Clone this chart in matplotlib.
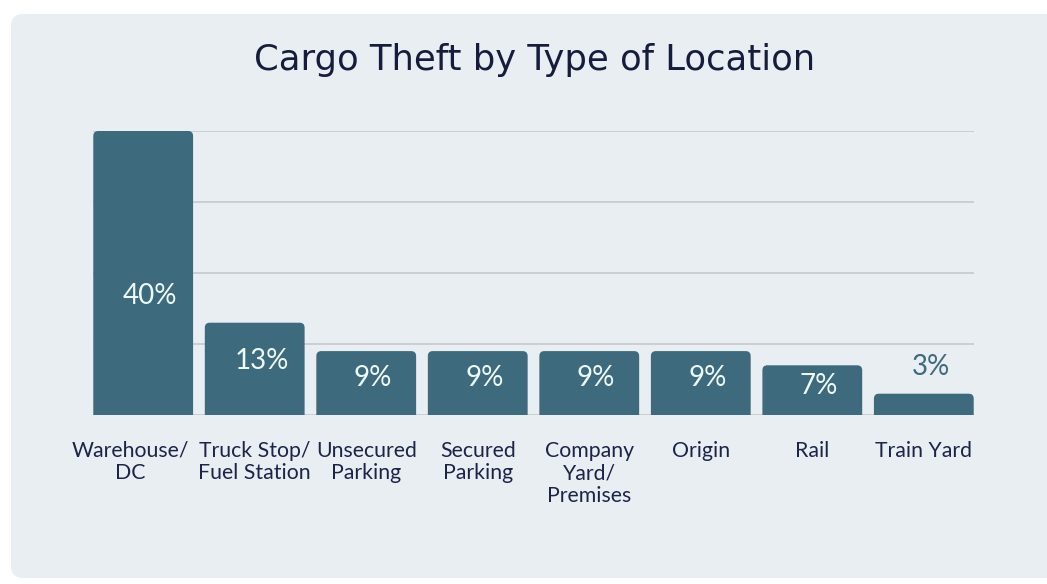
import matplotlib.pyplot as plt
from matplotlib.patches import FancyBboxPatch
from matplotlib.transforms import ScaledTranslation

categories = ["Warehouse/\nDC", "Truck Stop/\nFuel Station", "Unsecured\nParking",
              "Secured\nParking", "Company\nYard/\nPremises", "Origin", "Rail", "Train Yard"]
values = [40, 13, 9, 9, 9, 9, 7, 3]
labels = ["40%", "13%", "9%", "9%", "9%", "9%", "7%", "3%"]

BAR = "#3d6a7d"
BG = "#e9eef2"
NAVY = "#1c2448"

fig = plt.figure(figsize=(10.47, 5.84), dpi=100)
fig.patch.set_facecolor("white")

# rounded panel behind everything
panel = FancyBboxPatch((0.11, 0.06), 10.6, 5.64, boxstyle="round,pad=0,rounding_size=0.12",
                       transform=fig.dpi_scale_trans, facecolor=BG, edgecolor="none", zorder=-5)
fig.patches.append(panel)

ax = fig.add_axes([93 / 1047, 169 / 584, 881 / 1047, 284 / 584])
ax.set_facecolor("none")
x = range(len(values))
bars = ax.bar(x, [v + 1 for v in values], width=0.895, bottom=-1, color=BAR, zorder=2)

# swap plain bars for ones with rounded top corners
px_x = 881 / 7.9
px_y = 284 / 40
r = 5 / px_x
for b in bars:
    rb = FancyBboxPatch((b.get_x(), b.get_y()), b.get_width(), b.get_height(),
                        boxstyle=f"round,pad=0,rounding_size={r}",
                        mutation_aspect=px_x / px_y, facecolor=BAR, edgecolor="none", zorder=2)
    ax.add_patch(rb)
    b.remove()

ax.set_xlim(-0.45, len(values) - 0.55)
ax.set_ylim(0, 40)
ax.set_yticks([0, 10, 20, 30, 40])
ax.yaxis.grid(True, color="#c2c6ca", linewidth=1.1, zorder=1)
ax.set_axisbelow(True)
ax.tick_params(left=False, labelleft=False, bottom=False, pad=15)
for s in ax.spines.values():
    s.set_visible(False)
ax.set_xticks(list(x))
ticks = ax.set_xticklabels(categories, fontsize=15.3, color=NAVY, family="Lato",
                           linespacing=1.17, va="top")
# first label sits a little to the left in the original
ticks[0].set_transform(ticks[0].get_transform() + ScaledTranslation(-0.13, 0, fig.dpi_scale_trans))

for i, (v, lab) in enumerate(zip(values, labels)):
    if v >= 20:
        ax.text(i + 0.06, v * 0.42, lab, ha="center", va="center", fontsize=20,
                color="#eefaf5", family="Lato")
    elif v >= 5:
        ax.text(i + 0.06, v * 0.58, lab, ha="center", va="center", fontsize=20,
                color="#eefaf5", family="Lato")
    else:
        ax.annotate(lab, (i + 0.06, v), xytext=(0, 19), textcoords="offset points",
                    ha="center", va="center", fontsize=20, color=BAR, family="Lato")

fig.text(0.511, 0.897, "Cargo Theft by Type of Location", ha="center", va="center",
         fontsize=25.5, color="#161d3c", family="DejaVu Sans")

fig.savefig("out.png", dpi=100)
